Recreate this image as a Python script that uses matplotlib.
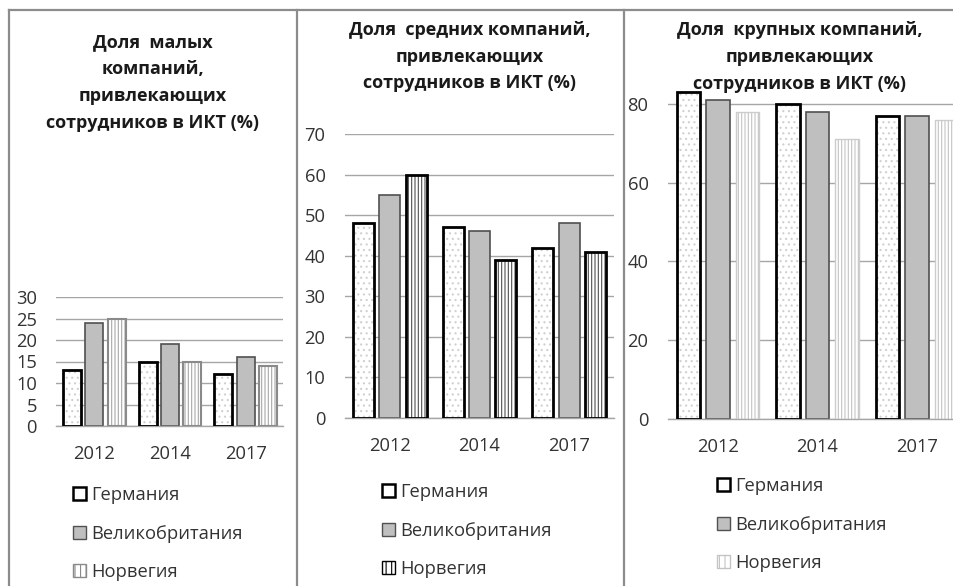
import numpy as np
import matplotlib
matplotlib.use("Agg")
import matplotlib.pyplot as plt
from matplotlib.patches import Patch
from matplotlib.lines import Line2D

plt.rcParams['font.family'] = ['Open Sans', 'DejaVu Sans']
plt.rcParams['hatch.linewidth'] = 0.8

years = ['2012', '2014', '2017']
countries = ['Германия', 'Великобритания', 'Норвегия']

small_de = [13, 15, 12]
small_uk = [24, 19, 16]
small_no = [25, 15, 14]

medium_de = [48, 47, 42]
medium_uk = [55, 46, 48]
medium_no = [60, 39, 41]

large_de = [83, 80, 77]
large_uk = [81, 78, 77]
large_no = [78, 71, 76]

titles = ['Доля  малых\nкомпаний,\nпривлекающих\nсотрудников в ИКТ (%)',
          'Доля  средних компаний,\nпривлекающих\nсотрудников в ИКТ (%)',
          'Доля  крупных компаний,\nпривлекающих\nсотрудников в ИКТ (%)']

W, H = 954, 586
fig = plt.figure(figsize=(W / 100, H / 100), dpi=100)


def fx(px):
    return px / W


def fy(py):
    return 1 - py / H


def axes_px(left, right, top, bottom):
    return fig.add_axes([fx(left), fy(bottom), (right - left) / W, (bottom - top) / H])


TICK_FS = 13.2
LEG_FS = 13.2
GRID = '#a6a6a6'

panels = [
    dict(vals=(small_de, small_uk, small_no), box=(56.5, 283.5, 297, 426), ylim=30, ticks=np.arange(0, 31, 5),
         no_stripe='#a8a8a8', no_edge='#8a8a8a', no_lw=1.5, title_xy=(153, 82.5),
         leg_xy=(73, 486)),
    dict(vals=(medium_de, medium_uk, medium_no), box=(345, 614, 134, 418), ylim=70, ticks=np.arange(0, 71, 10),
         no_stripe='#505050', no_edge='#000000', no_lw=2.0, title_xy=(470, 56.5),
         leg_xy=(382, 483)),
    dict(vals=(large_de, large_uk, large_no), box=(668, 967, 64.4, 419), ylim=90, ticks=np.arange(0, 81, 20),
         no_stripe='#c4c4c4', no_edge='#cccccc', no_lw=1.0, title_xy=(800, 57),
         leg_xy=(717, 477)),
]

x = np.arange(len(years))
off = 0.295
bw = 0.235

for i, p in enumerate(panels):
    l, r, t, b = p['box']
    ax = axes_px(l, r, t, b)
    de, uk, no = p['vals']
    # Germany: dotted fill + black outline
    ax.bar(x - off, de, bw, facecolor='white', edgecolor='#d0d0d0', hatch='...', linewidth=0, zorder=2)
    ax.bar(x - off, de, bw, fill=False, edgecolor='black', linewidth=2.0, zorder=3)
    # UK
    ax.bar(x, uk, bw, facecolor='#bfbfbf', edgecolor='#505050', linewidth=1.2, zorder=2)
    # Norway
    ax.bar(x + off, no, bw, facecolor='white', edgecolor=p['no_stripe'], hatch='|||||', linewidth=0, zorder=2)
    ax.bar(x + off, no, bw, fill=False, edgecolor=p['no_edge'], linewidth=p['no_lw'], zorder=3)

    ax.set_xlim(-0.5, 2.5)
    ax.set_ylim(0, p['ylim'])
    ax.set_yticks(p['ticks'])
    ax.set_xticks(x)
    ax.set_xticklabels(years)
    ax.yaxis.grid(True, color=GRID, linewidth=1.0, zorder=0)
    ax.set_axisbelow(True)
    for s in ('left', 'right', 'top'):
        ax.spines[s].set_visible(False)
    ax.spines['bottom'].set_color(GRID)
    ax.spines['bottom'].set_linewidth(1.0)
    ax.tick_params(axis='both', length=0, labelsize=TICK_FS)
    ax.tick_params(axis='y', pad=14)
    ax.tick_params(axis='x', pad=14)
    for lab in ax.get_xticklabels() + ax.get_yticklabels():
        lab.set_color('#333333')
    ax.set_facecolor('none')

    tx, ty = p['title_xy']
    fig.text(fx(tx), fy(ty), titles[i], ha='center', va='center',
             fontsize=13, fontweight='bold', linespacing=1.62, color='#1a1a1a')

    handles = [
        Patch(facecolor='white', edgecolor='black', linewidth=1.8),
        Patch(facecolor='#bfbfbf', edgecolor='#505050', linewidth=1.0),
        Patch(facecolor='white', edgecolor=p['no_stripe'] if p['no_lw'] < 1.5 else p['no_edge'],
              hatch='|||', linewidth=1.0),
    ]
    lx, ly = p['leg_xy']
    fig.legend(handles, countries, loc='upper left', bbox_to_anchor=(fx(lx), fy(ly)),
               frameon=False, fontsize=LEG_FS, handlelength=0.7, handleheight=0.7,
               handletextpad=0.3, labelspacing=1.12, borderpad=0, borderaxespad=0,
               labelcolor='#333333')

# panel frames
BC = '#8c8c8c'
fig.add_artist(Line2D([fx(9), fx(954)], [fy(10), fy(10)], color=BC, linewidth=1.6))
for xv in (9, 297, 624):
    fig.add_artist(Line2D([fx(xv), fx(xv)], [fy(10), fy(586)], color=BC, linewidth=1.6))

fig.savefig('out.png', dpi=100)
